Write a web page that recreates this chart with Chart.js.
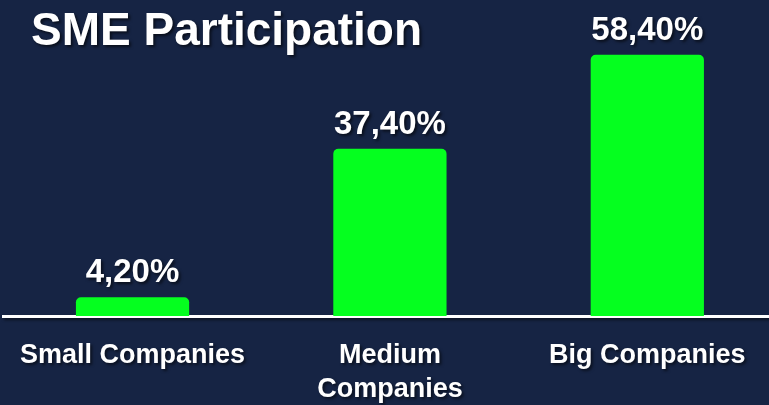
<!DOCTYPE html>
<html>
<head>
<meta charset="utf-8">
<script src="https://cdn.jsdelivr.net/npm/chart.js@4/dist/chart.umd.min.js"></script>
<style>
  html, body { margin: 0; padding: 0; background: #162444; overflow: hidden; }
  body { width: 769px; height: 405px; position: relative; }
  #title {
    position: absolute; left: 31px; top: 5px; margin: 0; z-index: 1;
    font: 700 46px "Liberation Sans", Arial, sans-serif; line-height: 48px; color: #fff;
    text-shadow: 2px 2px 3px rgba(0,0,0,0.6);
  }
  #wrap { position: absolute; left: -3px; top: 0; width: 783px; height: 405px; }
</style>
</head>
<body>
<h1 id="title">SME Participation</h1>
<div id="wrap"><canvas id="chart"></canvas></div>
<script>
const categories = ['Small Companies', ['Medium', 'Companies'], 'Big Companies'];
const participation = [4.2, 37.4, 58.4];
const yMax = 70;

const FONT = '"Liberation Sans", Arial, sans-serif';
const fmt = v => v.toLocaleString('de-DE', { minimumFractionDigits: 2, maximumFractionDigits: 2 }) + '%';

// shadow on scale text, plain bars
const shadowPlugin = {
  id: 'shadow',
  beforeDraw(chart) {
    const ctx = chart.ctx;
    ctx.save();
    ctx.shadowColor = 'rgba(0,0,0,0.55)';
    ctx.shadowOffsetX = 2;
    ctx.shadowOffsetY = 2;
    ctx.shadowBlur = 3;
  },
  beforeDatasetsDraw(chart) {
    chart.ctx.restore();
  },
};

const valueLabels = {
  id: 'valueLabels',
  afterDatasetsDraw(chart) {
    const ctx = chart.ctx;
    const meta = chart.getDatasetMeta(0);
    ctx.save();
    ctx.shadowColor = 'rgba(0,0,0,0.6)';
    ctx.shadowOffsetX = 2;
    ctx.shadowOffsetY = 2;
    ctx.shadowBlur = 3;
    ctx.fillStyle = '#fff';
    ctx.font = '700 33px ' + FONT;
    ctx.textAlign = 'center';
    ctx.textBaseline = 'alphabetic';
    meta.data.forEach((bar, i) => {
      ctx.fillText(fmt(participation[i]), bar.x, bar.y - 15);
    });
    ctx.restore();
  },
};

new Chart(document.getElementById('chart'), {
  type: 'bar',
  data: {
    labels: categories,
    datasets: [{
      data: participation,
      backgroundColor: '#05ff1f',
      borderRadius: 5,
      borderSkipped: 'bottom',
      barPercentage: 0.44,
      categoryPercentage: 1,
    }],
  },
  options: {
    responsive: true,
    maintainAspectRatio: false,
    animation: false,
    layout: { padding: { left: 0, right: 4, top: 3, bottom: 0 } },
    plugins: {
      legend: { display: false },
      tooltip: { enabled: false },
    },
    scales: {
      x: {
        grid: { display: false, drawTicks: false },
        border: { display: true, color: '#fff', width: 3 },
        ticks: {
          color: '#fff',
          font: { family: FONT, size: 27, weight: '700', lineHeight: '34px' },
          padding: 23,
          maxRotation: 0,
          autoSkip: false,
        },
        afterFit: s => { s.height = 89; },
      },
      y: { display: false, min: 0, max: yMax },
    },
  },
  plugins: [shadowPlugin, valueLabels],
});
</script>
</body>
</html>
